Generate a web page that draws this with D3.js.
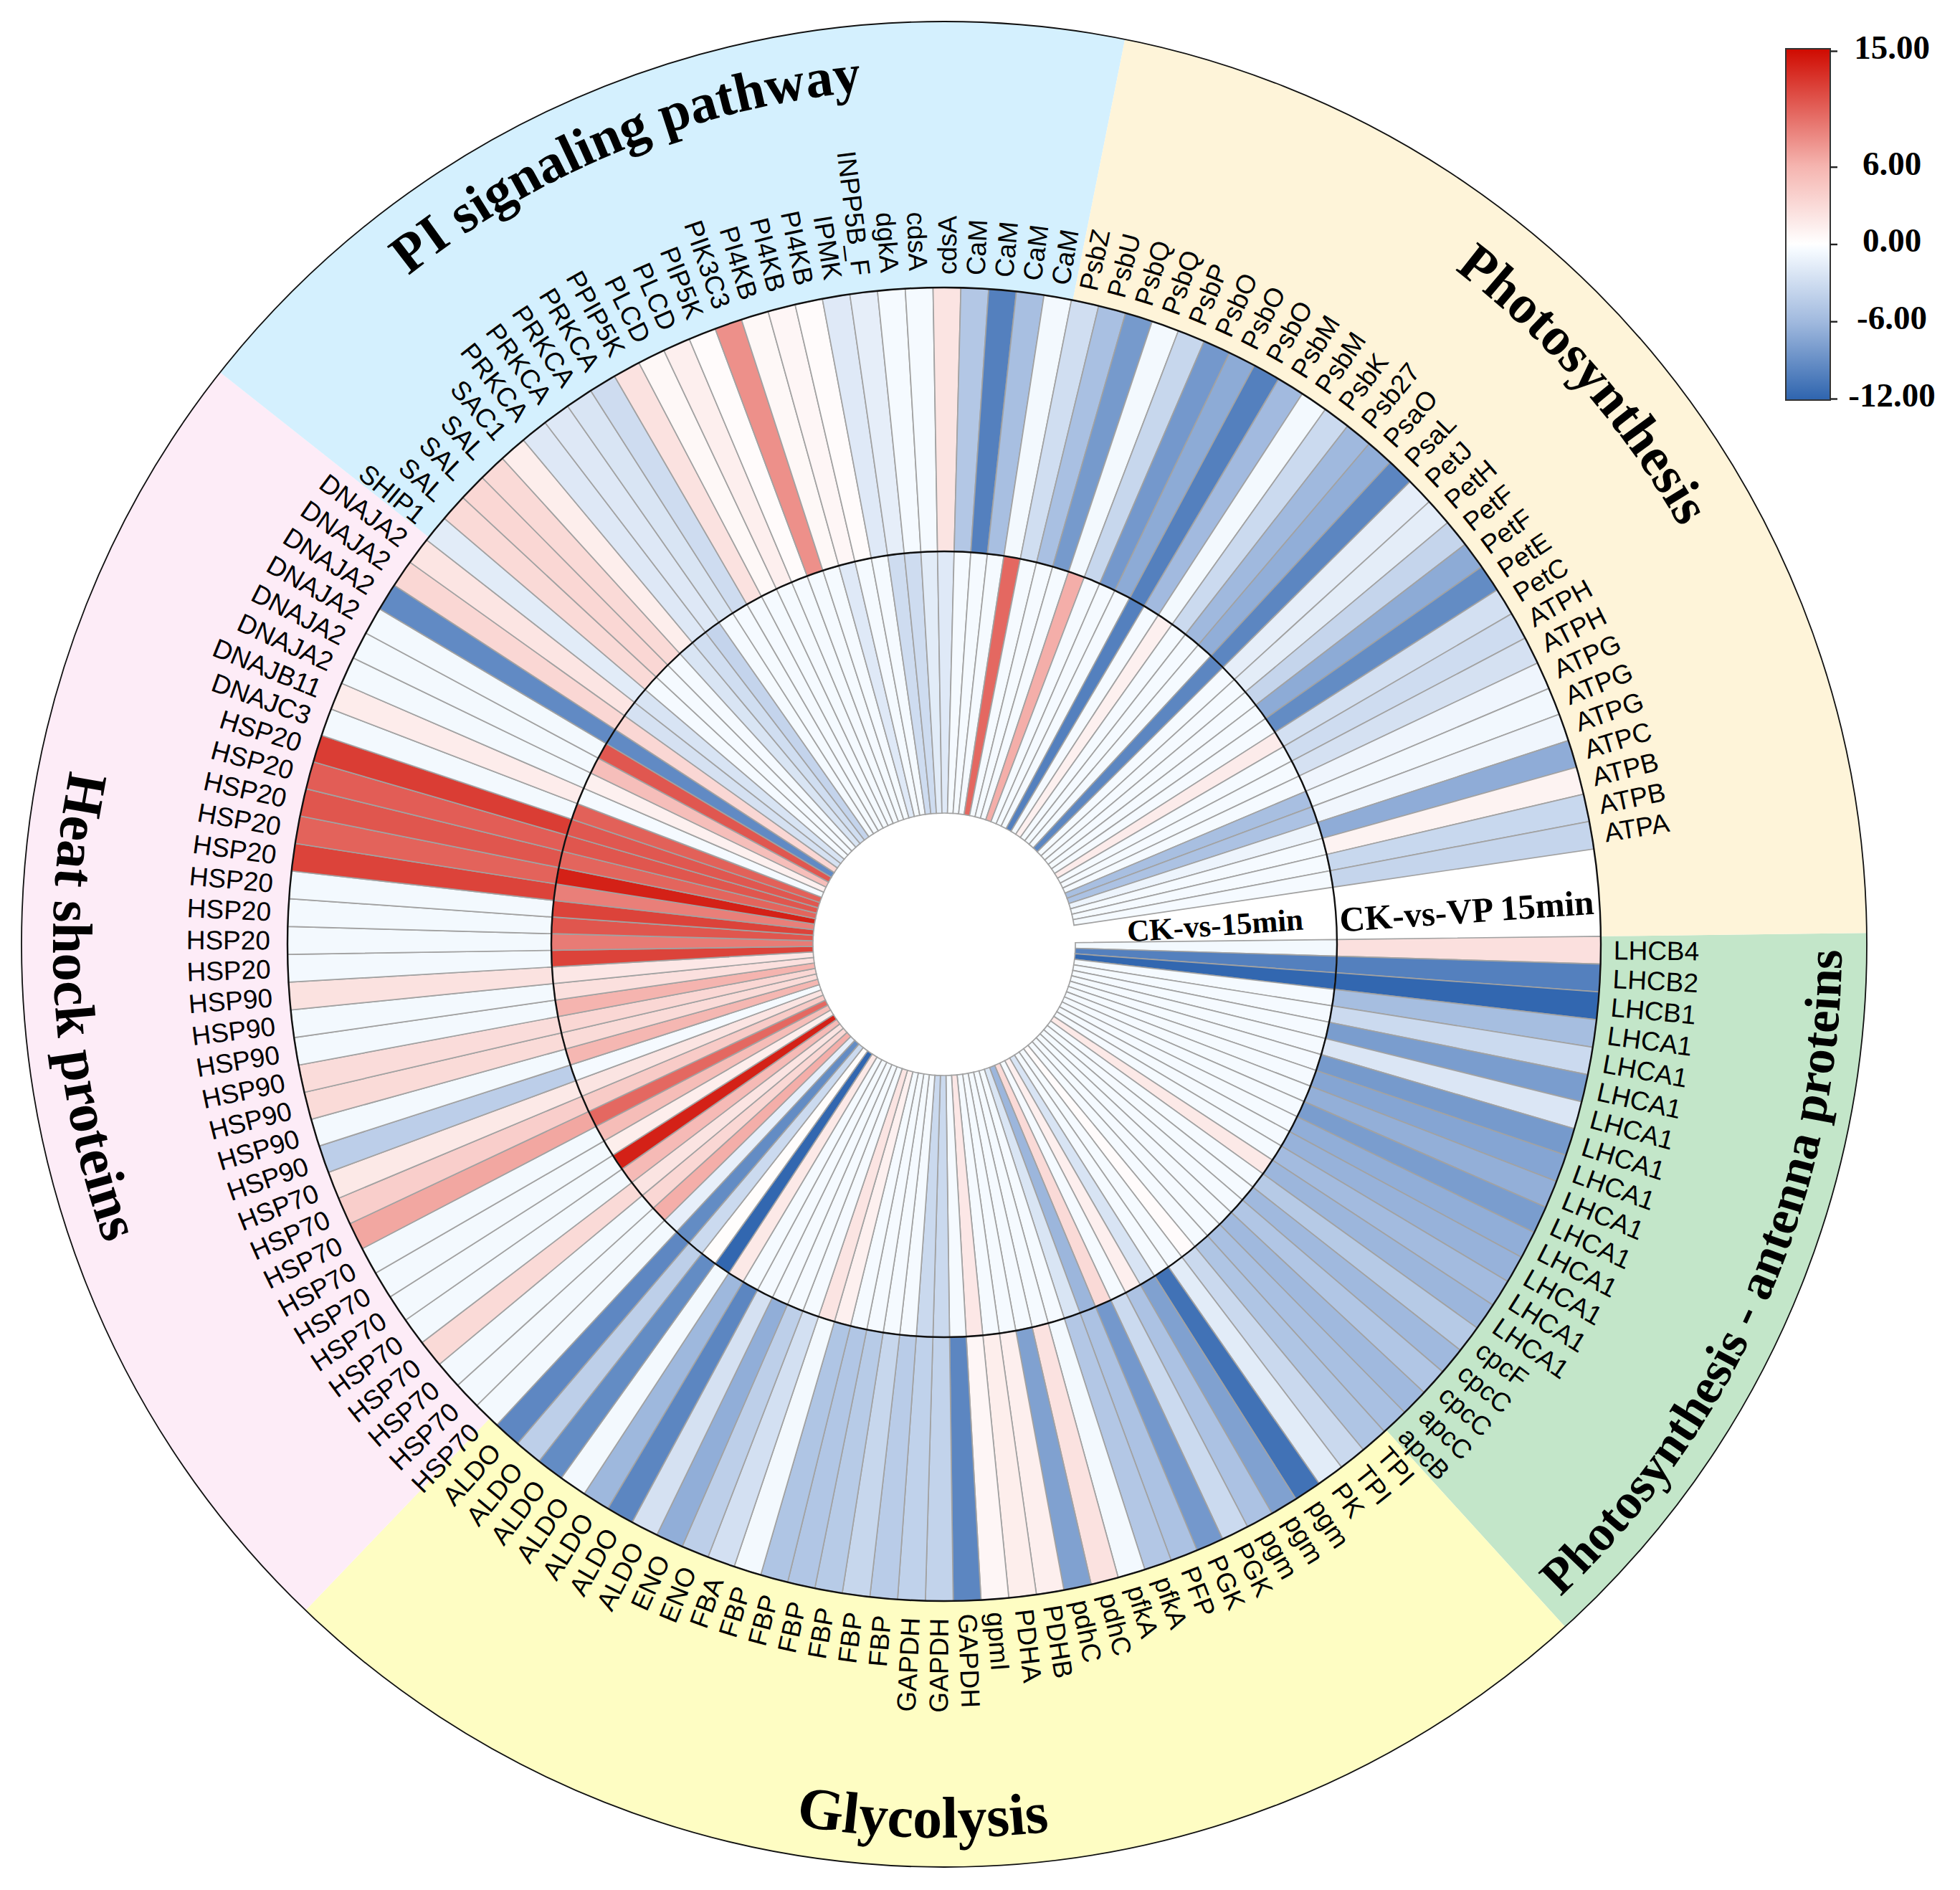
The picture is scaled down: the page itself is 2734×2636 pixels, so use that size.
<!DOCTYPE html>
<html>
<head>
<meta charset="utf-8">
<script src="https://cdn.jsdelivr.net/npm/d3@7"></script>
<style>html,body{margin:0;padding:0;background:#fff}svg{display:block}</style>
</head>
<body>
<svg id="chart" width="2734" height="2636"></svg>
<script>
const genesAntenna = ["LHCB4","LHCB2","LHCB1","LHCA1","LHCA1","LHCA1","LHCA1","LHCA1","LHCA1","LHCA1","LHCA1","LHCA1","LHCA1","LHCA1","LHCA1","cpcF","cpcC","cpcC","apcC","apcB"];
const genesGlycolysis = ["TPI","TPI","PK","pgm","pgm","pgm","PGK","PGK","PFP","pfkA","pfkA","pdhC","pdhC","PDHB","PDHA","gpmI","GAPDH","GAPDH","GAPDH","FBP","FBP","FBP","FBP","FBP","FBP","FBA","ENO","ENO","ALDO","ALDO","ALDO","ALDO","ALDO","ALDO","ALDO"];
const genesHeatShock = ["HSP70","HSP70","HSP70","HSP70","HSP70","HSP70","HSP70","HSP70","HSP70","HSP70","HSP70","HSP90","HSP90","HSP90","HSP90","HSP90","HSP90","HSP90","HSP20","HSP20","HSP20","HSP20","HSP20","HSP20","HSP20","HSP20","HSP20","DNAJC3","DNAJB11","DNAJA2","DNAJA2","DNAJA2","DNAJA2","DNAJA2","DNAJA2"];
const genesPI = ["SHIP1","SAL","SAL","SAL","SAC1","PRKCA","PRKCA","PRKCA","PRKCA","PPIP5K","PLCD","PLCD","PIP5K","PIK3C3","PI4KB","PI4KB","PI4KB","IPMK","INPP5B_F","dgkA","cdsA","cdsA","CaM","CaM","CaM","CaM"];
const genesPhotosynthesis = ["PsbZ","PsbU","PsbQ","PsbQ","PsbP","PsbO","PsbO","PsbO","PsbM","PsbM","PsbK","Psb27","PsaO","PsaL","PetJ","PetH","PetF","PetF","PetE","PetC","ATPH","ATPH","ATPG","ATPG","ATPG","ATPC","ATPB","ATPB","ATPA"];

const vpAntenna = [2.5,-10,-11.8,-5.6,-3.2,-8,-2.2,-8.2,-7.4,-6.7,-8,-6.8,-6.5,-5.8,-6.2,-4.6,-6,-4.9,-6,-5.4];
const vpGlycolysis = [-5,-3.3,-1.7,-11,-7.7,-5.2,-3.2,-8.3,-5.2,-4.8,-0.6,2.3,-7.7,1.3,1.4,0.7,-9.6,-3.8,-3.9,-4.4,-3.5,-4.5,-4.9,-5,-0.6,-2.7,-4.1,-6.8,-2.6,-9.6,-6.1,-0.6,-9.2,-4.1,-9.5];
const vpHeatShock = [-0.6,-0.6,-0.6,3,-0.6,-0.6,-0.6,-0.6,6.7,3.9,1.8,-4.2,-0.6,2.9,2.8,-0.6,-0.6,2.3,-0.6,-0.6,-0.6,-0.6,12,10.3,11,10.6,12.3,-0.6,1.5,-0.6,-0.6,-0.6,-9.3,3.2,2.1];
const vpPI = [-1.7,3,3.2,3,1.4,-2,-2,-2.3,-3,2.3,0.6,1.3,0.3,7.9,0.6,0.7,0.3,-1.9,-1.5,-0.5,-0.5,2.2,-4.8,-10,-5.5,-0.6];
const vpPhotosynthesis = [-2.9,-5.4,-8.2,-0.6,-3.5,-8.3,-7,-10,-5.9,-0.6,-3.2,-6,-6.8,-9.6,-1.5,-1.6,-3.6,-7,-9.2,-2.7,-3,-2.6,-0.9,-0.7,-0.8,-6.9,1,-3.4,-3.6];

const ckAntenna = [-0.6,-10,-11.8,-0.5,-0.5,-0.5,-0.5,-0.5,-0.5,-0.5,-0.5,-0.5,-0.5,-0.5,1.8,-0.5,-0.5,-0.5,-0.5,-0.5];
const ckGlycolysis = [-0.5,0.3,-0.5,-0.5,-2.4,1.3,-0.5,3,-6.2,-2.3,-0.5,-0.5,-0.5,-0.5,-0.5,1.9,-0.5,-3.3,-3.3,-0.5,-0.5,-0.5,-0.5,1.2,2.2,-0.5,-0.5,-0.5,-0.5,-0.5,1.8,-11.8,0.2,-3.2,-9.2];
const ckHeatShock = [-1.4,6.3,3.2,2.2,5.5,13.8,1.4,5.3,10,4.2,2.2,-0.5,5.8,2.9,3.2,6,2.5,1.9,12,9,11,12,8.8,13.8,10.2,11,10.9,10.4,-0.5,1.2,5.2,10.9,-9.3,3.2,-2.6];
const ckPI = [-2.4,-0.5,-0.5,-0.5,-2.3,-2.9,-3.7,-0.5,-0.5,-0.5,-0.5,-0.5,-0.5,-0.5,-0.5,-1.9,-0.5,-0.5,-3,-3,-1.7,-1.9,-0.5,-0.5,-0.5,10];
const ckPhotosynthesis = [-0.5,-0.5,-0.5,6.3,-0.5,-0.5,-0.5,-10,-0.5,1.2,-0.5,-0.5,-0.5,-9.6,-0.5,-0.5,-0.5,-0.5,-0.5,1.6,-0.5,-0.5,-0.5,-5.5,-5.2,-1,-0.5,-0.5,-0.5];

const sectorNames = ["Photosynthesis - antenna proteins","Glycolysis","Heat shock proteins","PI signaling pathway","Photosynthesis"];
const sectorGenes = [genesAntenna,genesGlycolysis,genesHeatShock,genesPI,genesPhotosynthesis];
const sectorFills = ["#c3e6c9","#fefdc3","#fdecf7","#d4f0fe","#fef4d9"];
const colorTicks = [15,6,0,-6,-12];
const ringNames = ["CK-vs-15min","CK-vs-VP 15min"];

const genes = sectorGenes.flat();
const ck15 = [...ckAntenna,...ckGlycolysis,...ckHeatShock,...ckPI,...ckPhotosynthesis];
const vp15 = [...vpAntenna,...vpGlycolysis,...vpHeatShock,...vpPI,...vpPhotosynthesis];

const svg = d3.select("#chart");
const cx = 1317, cy = 1317, R = 1287, r0 = 183, r1 = 548, r2 = 916;
const rad = d => d * Math.PI / 180;
const color = d3.scaleLinear()
  .domain([-12,-6,-0.5,0,6,15])
  .range(["#2e64ae","#a0b9de","#f5faff","#ffffff","#f5b4af","#cf0a00"])
  .clamp(true);

// d3 arc angles: 0 = north, clockwise. Band covers the heat map, gap at right.
const theta = d3.scaleBand().domain(d3.range(genes.length))
  .range([rad(90 - 0.7), rad(90 + 351.65)]).paddingInner(0).paddingOuter(0);

const root = svg.append("g").attr("transform", `translate(${cx},${cy})`);

// Sector backgrounds: hand-placed wedges, they do not quite follow cell edges
const wedgeEdges = [-0.7, 47.7, 133.8, 218.3, 281.3, 359.3];
const sectors = sectorNames.map((name, i) => ({
  name, fill: sectorFills[i], start: rad(90 + wedgeEdges[i]), end: rad(90 + wedgeEdges[i + 1])
}));
const bgArc = d3.arc().innerRadius(r2).outerRadius(R).startAngle(d => d.start).endAngle(d => d.end);
root.append("g").selectAll("path").data(sectors).join("path")
  .attr("d", bgArc).attr("fill", d => d.fill);

// Heat cells
function ring(values, ri, ro) {
  const a = d3.arc().innerRadius(ri).outerRadius(ro)
    .startAngle((d, i) => theta(i)).endAngle((d, i) => theta(i) + theta.bandwidth());
  root.append("g").selectAll("path").data(values).join("path")
    .attr("d", a).attr("fill", d => color(d))
    .attr("stroke", "#a2a2a2").attr("stroke-width", 1.7);
}
ring(ck15, r0, r1);
ring(vp15, r1, r2);

// Ring outlines
[[r1,2.4],[r2,2.4],[R,1.8]].forEach(([r,w]) => {
  root.append("circle").attr("r", r).attr("fill", "none").attr("stroke", "#111").attr("stroke-width", w);
});

// Gene labels
root.append("g").selectAll("text").data(genes).join("text")
  .attr("font-family", "'Liberation Sans',Arial,sans-serif")
  .attr("font-size", 37).attr("fill", "#000")
  .attr("dy", "0.35em")
  .each(function(d, i) {
    const deg = (theta(i) + theta.bandwidth() / 2) * 180 / Math.PI - 90;
    const flip = deg > 90 && deg < 270;
    d3.select(this)
      .attr("transform", `rotate(${deg}) translate(${flip ? 940 : 934},0)` + (flip ? " rotate(180)" : ""))
      .attr("text-anchor", flip ? "end" : "start")
      .text(d);
  });

// Curved sector titles
const titleLayout = [
  {deg: 23.5, r: 1252, size: 70.5, ccw: true},
  {deg: 91.4, r: 1246, size: 82, ccw: true},
  {deg: 175.8, r: 1243, size: 79, ccw: true},
  {deg: 247.9, r: 1195, size: 77, ccw: false},
  {deg: -41.2, r: 1180, size: 76, ccw: false}
];
const defs = svg.append("defs");
sectors.forEach((s, i) => {
  const t = titleLayout[i];
  const p = d3.path();
  const c = rad(t.deg);
  if (t.ccw) p.arc(0, 0, t.r, c + 1.2, c - 1.2, true);
  else p.arc(0, 0, t.r, c - 1.2, c + 1.2, false);
  defs.append("path").attr("id", "title" + i).attr("d", p.toString());
  root.append("text")
    .attr("font-family", "'Liberation Serif','Times New Roman',serif")
    .attr("font-weight", "bold").attr("font-size", t.size).attr("fill", "#000")
    .append("textPath").attr("href", "#title" + i)
    .attr("startOffset", "50%").attr("text-anchor", "middle").text(s.name);
});

// Ring names in the gap
const ringLabelLayout = [{x: 1696, y: 1305, size: 43},{x: 2047, y: 1287, size: 49}];
ringNames.forEach((n, i) => {
  const l = ringLabelLayout[i];
  svg.append("text").attr("transform", `translate(${l.x},${l.y}) rotate(-4)`)
    .attr("text-anchor", "middle")
    .attr("font-family", "'Liberation Serif','Times New Roman',serif")
    .attr("font-weight", "bold").attr("font-size", l.size).text(n);
});

// Colour bar
const barY = d3.scaleLinear().domain([-12, 15]).range([556, 71]);
const grad = defs.append("linearGradient").attr("id", "cbar").attr("x1", 0).attr("x2", 0).attr("y1", 1).attr("y2", 0);
color.domain().forEach(v => {
  grad.append("stop").attr("offset", (v + 12) / 27).attr("stop-color", color(v));
});
svg.append("rect").attr("x", 2491).attr("y", 68).attr("width", 62).attr("height", 490)
  .attr("fill", "url(#cbar)").attr("stroke", "#333").attr("stroke-width", 2);
const axis = d3.axisRight(barY).tickValues(colorTicks).tickFormat(d => d.toFixed(2)).tickSize(10).tickPadding(20);
const ax = svg.append("g").attr("transform", "translate(2553,0)").call(axis);
ax.select(".domain").remove();
ax.selectAll("line").attr("stroke", "#222").attr("stroke-width", 2.4);
ax.selectAll("text")
  .attr("x", 86).attr("dy", "0.22em").attr("text-anchor", "middle")
  .attr("font-family", "'Liberation Serif','Times New Roman',serif")
  .attr("font-weight", "bold").attr("font-size", 47).attr("fill", "#000");
</script>
</body>
</html>
